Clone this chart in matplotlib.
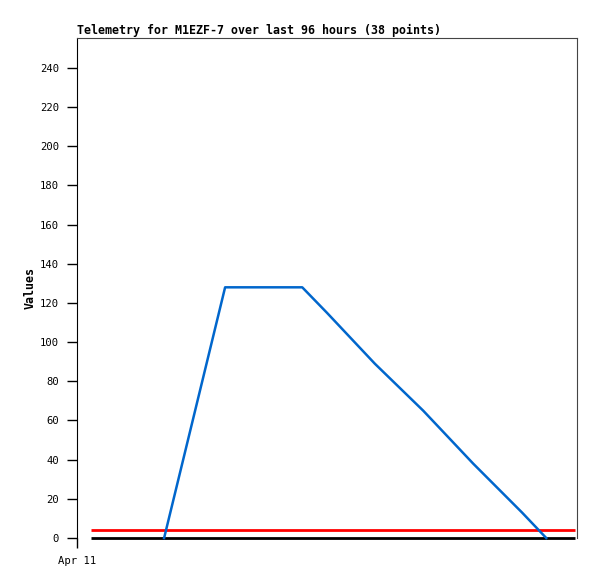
import matplotlib
matplotlib.use("Agg")
import matplotlib.pyplot as plt

# Data (hours since start of window)
blue_hours = [14.5, 26.6, 41.9, 46.8, 56.3, 65.9, 75.8, 85.5, 90.3]
blue_values = [0, 128, 128, 115, 89, 65, 38, 13, 0]
red_hours = [0, 96]
red_values = [4, 4]
black_hours = [0, 96]
black_values = [0, 0]
y_ticks = list(range(0, 241, 20))
x_tick_labels = ["Apr 11"]

title = "Telemetry for M1EZF-7 over last 96 hours (38 points)"

fig = plt.figure(figsize=(5.97, 5.79), dpi=100)
ax = fig.add_axes([77/597, (579-538)/579, 500/597, 500/579])

mono = "DejaVu Sans Mono"
ax.plot(black_hours, black_values, color="black", lw=2.0, solid_capstyle="butt", zorder=2, clip_on=False)
ax.plot(red_hours, red_values, color="#ff0000", lw=2.0, solid_capstyle="butt", zorder=3)
ax.plot(blue_hours, blue_values, color="#0066cc", lw=1.8, zorder=4, clip_on=False)

ax.set_xlim(-2.78, 96.4)
ax.set_ylim(0, 255.3)
ax.set_yticks(y_ticks)
ax.set_yticklabels([str(v) for v in y_ticks], family=mono, fontsize=7.6)
ax.set_xticks([-2.78])
ax.set_xticklabels(x_tick_labels, family=mono, fontsize=7.6)
ax.tick_params(axis="y", direction="out", length=7, width=1, color="black", pad=6)
ax.tick_params(axis="x", direction="out", length=7, width=1, color="black", pad=6)

ax.spines["left"].set_color("black")
ax.spines["bottom"].set_visible(False)
ax.spines["top"].set_color("#444444")
ax.spines["right"].set_color("#444444")

ax.set_title(title, family=mono, fontsize=8.4, fontweight="bold", loc="left", pad=3)
ax.set_ylabel("Values", family=mono, fontsize=8.4, fontweight="bold", labelpad=2)

fig.savefig("out.png", dpi=100)
